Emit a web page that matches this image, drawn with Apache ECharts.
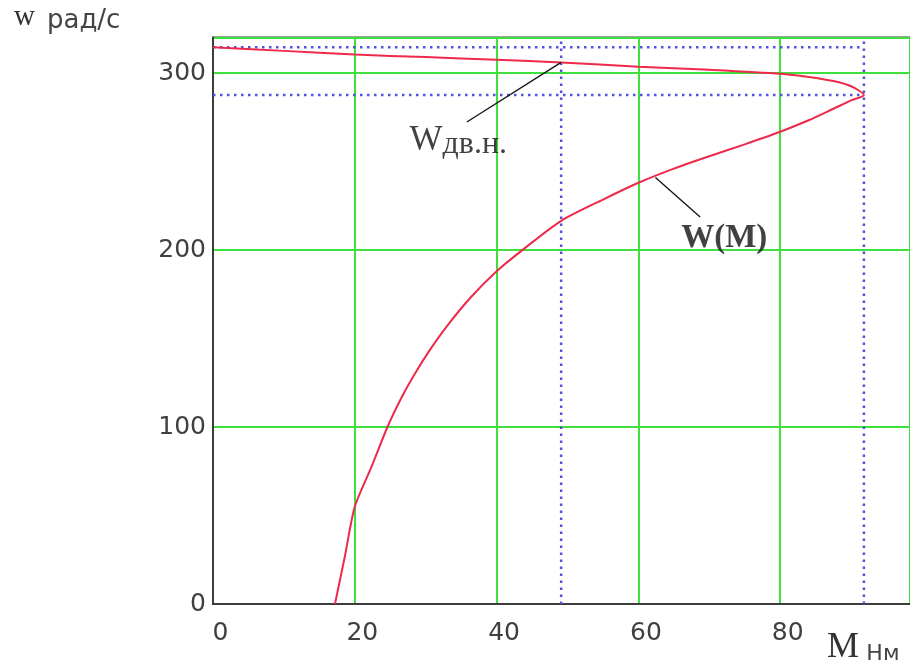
<!DOCTYPE html>
<html>
<head>
<meta charset="utf-8">
<script src="https://cdn.jsdelivr.net/npm/echarts@6/dist/echarts.min.js"></script>
<style>html,body{margin:0;padding:0;background:#fff}#c{width:910px;height:665px}</style>
</head>
<body>
<div id="c"></div>
<script>
// Mechanical characteristic w(M)
const curveM = [17.2, 18.6, 20, 22.3, 24.6, 26.5, 28.3, 30.5, 33, 36.3, 40, 43.8, 49.1, 55, 60, 65, 70, 75, 80, 84, 87.5, 90, 91.8, 90, 87.5, 84, 80, 70, 60, 49.1, 40, 30, 20, 10, 0];
const curveW = [0, 27, 55, 77, 100, 116, 129, 143, 157, 173, 188, 200.5, 216.5, 228.5, 238, 246, 253, 259.7, 266.8, 273.3, 279.8, 284.5, 287.6, 292.5, 295.5, 297.8, 299.6, 301.8, 303.6, 306, 307.5, 309, 310.4, 312.5, 314.6];

// reference values (dotted trace lines)
const w0 = 314.6;       // idle speed
const wCrit = 287.6;    // speed at max torque
const Mnom = 49.1;      // nominal torque
const Mmax = 91.8;      // max torque
const wNom = 306;       // nominal speed

// axis ticks
const xTicks = [0, 20, 40, 60, 80];
const yTicks = [0, 100, 200, 300];
const xMax = 98.3, yMax = 320;

// annotations: [anchorM, anchorW, endM, endW, textM, textW]
const annNom = [Mnom, wNom, 35.8, 272.3, 34.6, 261.5];
const annCurve = [62.4, 241, 68.7, 218.6, 72.1, 206.5];

const chart = echarts.init(document.getElementById('c'), null, {renderer: 'canvas'});
const dotted = {color: '#5252dc', width: 2.5, type: [2.5, 4.5]};
const tickFont = {fontFamily: 'DejaVu Sans', fontSize: 25, color: '#404040'};

chart.setOption({
  animation: false,
  backgroundColor: '#ffffff',
  grid: {left: 213, top: 37.6, width: 697, height: 566.4, show: true, borderColor: '#3c3c3c', borderWidth: 2, backgroundColor: 'transparent'},
  xAxis: {
    type: 'value', min: xTicks[0], max: xMax, interval: 20,
    axisLine: {show: true, onZero: false, lineStyle: {color: '#3c3c3c', width: 2}},
    axisTick: {show: false},
    splitLine: {show: true, lineStyle: {color: '#3ee03e', width: 2}},
    axisLabel: Object.assign({margin: 17, padding: [0, 0, 0, 15], showMaxLabel: false}, tickFont)
  },
  yAxis: {
    type: 'value', min: yTicks[0], max: yMax, interval: 100,
    axisLine: {show: true, onZero: false, lineStyle: {color: '#3c3c3c', width: 2}},
    axisTick: {show: false},
    splitLine: {show: true, lineStyle: {color: '#3ee03e', width: 2}},
    axisLabel: Object.assign({margin: 7, showMaxLabel: false}, tickFont)
  },
  series: [
    {type: 'line', data: [[0, w0], [Mmax, w0]], symbol: 'none', lineStyle: dotted, z: 3},
    {type: 'line', data: [[0, wCrit], [Mmax, wCrit]], symbol: 'none', lineStyle: dotted, z: 3},
    {type: 'line', data: [[Mnom, 0], [Mnom, yMax]], symbol: 'none', lineStyle: dotted, z: 3},
    {type: 'line', data: [[Mmax, 0], [Mmax, yMax]], symbol: 'none', lineStyle: dotted, z: 3},
    {type: 'line', data: curveM.map((m, i) => [m, curveW[i]]), symbol: 'none', smooth: 0.25,
     lineStyle: {color: '#ee2a4a', width: 2}, z: 5},
    {type: 'line', data: [[annNom[0], annNom[1]], [annNom[2], annNom[3]]], symbol: 'none', lineStyle: {color: '#111', width: 1.3}, z: 6},
    {type: 'line', data: [[annCurve[0], annCurve[1]], [annCurve[2], annCurve[3]]], symbol: 'none', lineStyle: {color: '#111', width: 1.3}, z: 6},
    {type: 'scatter', symbolSize: 0, z: 7,
     data: [
       {value: [annNom[4], annNom[5]], label: {show: true, position: 'inside', formatter: '{a|W}{b|дв.н.}',
         rich: {a: {fontFamily: 'Liberation Serif', fontSize: 35, color: '#111'}, b: {fontFamily: 'Liberation Serif', fontSize: 32, color: '#111', padding: [6, 0, 0, 0]}}}},
       {value: [annCurve[4], annCurve[5]], label: {show: true, position: 'inside', formatter: 'W(M)',
         fontFamily: 'Liberation Serif', fontWeight: 'bold', fontSize: 33, color: '#111'}}
     ]}
  ],
  graphic: [
    {type: 'text', left: 14, top: 3, style: {text: '{a|w}{b|рад/с}', rich: {a: {fontFamily: 'Liberation Serif', fontSize: 29, fill: '#333'}, b: {fontFamily: 'DejaVu Sans', fontSize: 26, fill: '#444', padding: [8, 0, 0, 12]}}}},
    {type: 'text', left: 827, top: 630, style: {text: '{a|M} {b|Нм}', rich: {a: {fontFamily: 'Liberation Serif', fontSize: 36, fill: '#333'}, b: {fontFamily: 'DejaVu Sans', fontSize: 22, fill: '#444', padding: [12, 0, 0, 4]}}}}
  ]
});
</script>
</body>
</html>
